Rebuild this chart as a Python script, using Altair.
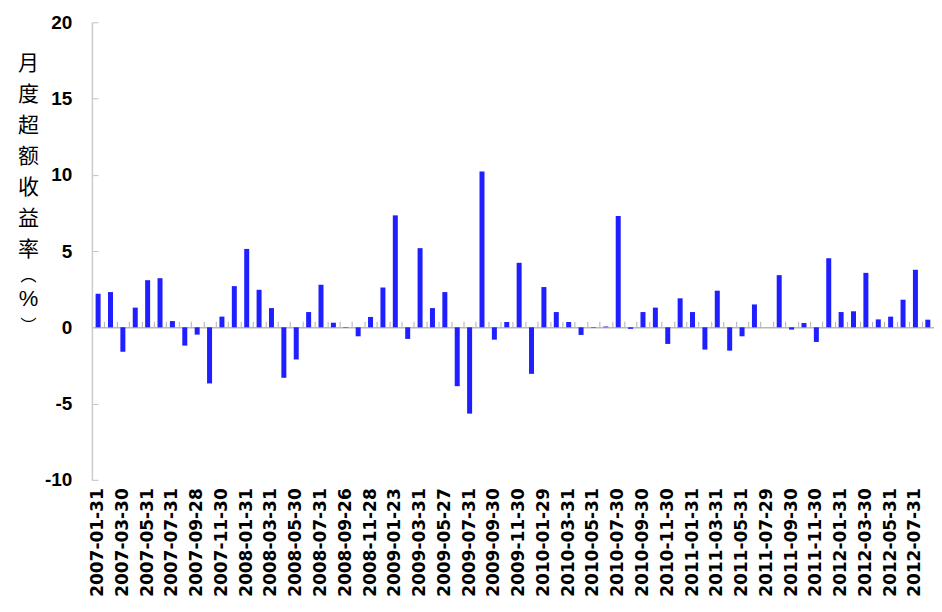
import altair as alt
import pandas as pd

dates = [
    "2007-01-31", "2007-02-28", "2007-03-30", "2007-04-30", "2007-05-31", "2007-06-29",
    "2007-07-31", "2007-08-31", "2007-09-28", "2007-10-31", "2007-11-30", "2007-12-28",
    "2008-01-31", "2008-02-29", "2008-03-31", "2008-04-30", "2008-05-30", "2008-06-30",
    "2008-07-31", "2008-08-29", "2008-09-26", "2008-10-31", "2008-11-28", "2008-12-31",
    "2009-01-23", "2009-02-27", "2009-03-31", "2009-04-30", "2009-05-27", "2009-06-30",
    "2009-07-31", "2009-08-31", "2009-09-30", "2009-10-30", "2009-11-30", "2009-12-31",
    "2010-01-29", "2010-02-26", "2010-03-31", "2010-04-30", "2010-05-31", "2010-06-30",
    "2010-07-30", "2010-08-31", "2010-09-30", "2010-10-29", "2010-11-30", "2010-12-31",
    "2011-01-31", "2011-02-28", "2011-03-31", "2011-04-29", "2011-05-31", "2011-06-30",
    "2011-07-29", "2011-08-31", "2011-09-30", "2011-10-31", "2011-11-30", "2011-12-30",
    "2012-01-31", "2012-02-29", "2012-03-30", "2012-04-27", "2012-05-31", "2012-06-29",
    "2012-07-31", "2012-08-31",
]

excess_return = [
    2.20, 2.31, -1.61, 1.29, 3.09, 3.22,
    0.41, -1.20, -0.48, -3.68, 0.70, 2.70,
    5.14, 2.46, 1.26, -3.31, -2.11, 1.00,
    2.79, 0.30, -0.03, -0.59, 0.68, 2.61,
    7.34, -0.76, 5.19, 1.26, 2.31, -3.86,
    -5.66, 10.22, -0.81, 0.35, 4.23, -3.05,
    2.64, 1.00, 0.35, -0.50, -0.03, 0.05,
    7.30, -0.10, 1.00, 1.29, -1.09, 1.90,
    1.00, -1.46, 2.40, -1.53, -0.59, 1.50,
    0.00, 3.42, -0.15, 0.28, -0.96, 4.53,
    1.00, 1.05, 3.57, 0.52, 0.70, 1.81,
    3.77, 0.50,
]

tick_labels = [
    "2007-01-31", "2007-03-30", "2007-05-31", "2007-07-31", "2007-09-28", "2007-11-30",
    "2008-01-31", "2008-03-31", "2008-05-30", "2008-07-31", "2008-09-26", "2008-11-28",
    "2009-01-23", "2009-03-31", "2009-05-27", "2009-07-31", "2009-09-30", "2009-11-30",
    "2010-01-29", "2010-03-31", "2010-05-31", "2010-07-30", "2010-09-30", "2010-11-30",
    "2011-01-31", "2011-03-31", "2011-05-31", "2011-07-29", "2011-09-30", "2011-11-30",
    "2012-01-31", "2012-03-30", "2012-05-31", "2012-07-31",
]

y_ticks = [-10, -5, 0, 5, 10, 15, 20]
y_title_main = ["月", "度", "超", "额", "收", "益", "率"]
paren_open = "︵"
percent_sign = "%"
paren_close = "︶"

df = pd.DataFrame({"date": dates, "value": excess_return})

W = 843
H = 458
Y_MIN, Y_MAX = -10, 20
zero_from_top = H * Y_MAX / (Y_MAX - Y_MIN)
TOP = 22          # plot top in page pixels
TITLE_X = -64     # title column centre, relative to plot left edge

x_scale = alt.Scale(domain=dates, paddingInner=0, paddingOuter=0)
y_scale = alt.Scale(domain=[Y_MIN, Y_MAX], nice=False, zero=False)

bars = alt.Chart(df).mark_bar(size=5, color="#1f1fff").encode(
    x=alt.X(
        "date:N",
        scale=x_scale,
        sort=None,
        axis=alt.Axis(
            orient="bottom",
            values=tick_labels,
            labelAngle=270,
            labelFont="DejaVu Sans",
            labelFontWeight="bold",
            labelFontSize=17,
            labelColor="#000000",
            labelPadding=8,
            labelOverlap=False,
            domain=False,
            ticks=False,
            grid=False,
            title=paren_close,
            titleAngle=0,
            titleAlign="center",
            titleBaseline="middle",
            titleX=TITLE_X,
            titleY=(326 - TOP) - H,
            titleFont="Noto Sans CJK SC",
            titleFontWeight="normal",
            titleFontSize=16,
            titleColor="#000000",
        ),
    ),
    y=alt.Y(
        "value:Q",
        scale=y_scale,
        axis=alt.Axis(
            orient="left",
            values=y_ticks,
            labelExpr="'' + datum.value",
            labelFont="Liberation Sans",
            labelFontWeight="bold",
            labelFontSize=19,
            labelColor="#000000",
            labelPadding=20,
            domain=False,
            ticks=False,
            grid=False,
            title=y_title_main,
            titleAngle=0,
            titleAlign="center",
            titleBaseline="top",
            titleX=TITLE_X,
            titleY=30,
            titleFont="Noto Sans CJK SC",
            titleFontWeight="normal",
            titleFontSize=21,
            titleLineHeight=31,
            titleColor="#000000",
        ),
    ),
)

ghost = alt.Chart(df).mark_bar(size=5, opacity=0).encode(
    x=alt.X(
        "date:N",
        scale=x_scale,
        sort=None,
        axis=alt.Axis(
            orient="top",
            offset=-zero_from_top,
            labels=False,
            ticks=True,
            tickBand="extent",
            tickSize=6,
            tickColor="#b0b0b0",
            tickWidth=1,
            domain=True,
            domainColor="#b8b8b8",
            domainWidth=1.5,
            grid=False,
            title=percent_sign,
            titleAngle=0,
            titleAlign="center",
            titleBaseline="middle",
            titleX=TITLE_X,
            titleY=(299 - TOP) - zero_from_top,
            titleFont="Liberation Sans",
            titleFontWeight="normal",
            titleFontSize=22,
            titleColor="#000000",
        ),
    ),
    y=alt.Y(
        "value:Q",
        scale=y_scale,
        axis=alt.Axis(
            orient="right",
            offset=-W,
            values=y_ticks,
            labels=False,
            ticks=True,
            tickSize=6,
            tickColor="#c0c0c0",
            tickWidth=1,
            domain=True,
            domainColor="#cccccc",
            domainWidth=1.5,
            grid=False,
            title=paren_open,
            titleAngle=0,
            titleAlign="center",
            titleBaseline="middle",
            titleX=TITLE_X,
            titleY=275 - TOP,
            titleFont="Noto Sans CJK SC",
            titleFontWeight="normal",
            titleFontSize=16,
            titleColor="#000000",
        ),
    ),
)

chart = (
    alt.layer(bars, ghost)
    .resolve_scale(x="shared", y="shared")
    .resolve_axis(x="independent", y="independent")
    .properties(
        width=W,
        height=H,
        padding={"left": 84, "top": 14, "right": 0, "bottom": 120},
        autosize=alt.AutoSizeParams(type="none"),
    )
    .configure_view(stroke=None)
)

chart.save("out.html", embed_options={"renderer": "svg", "actions": False})
